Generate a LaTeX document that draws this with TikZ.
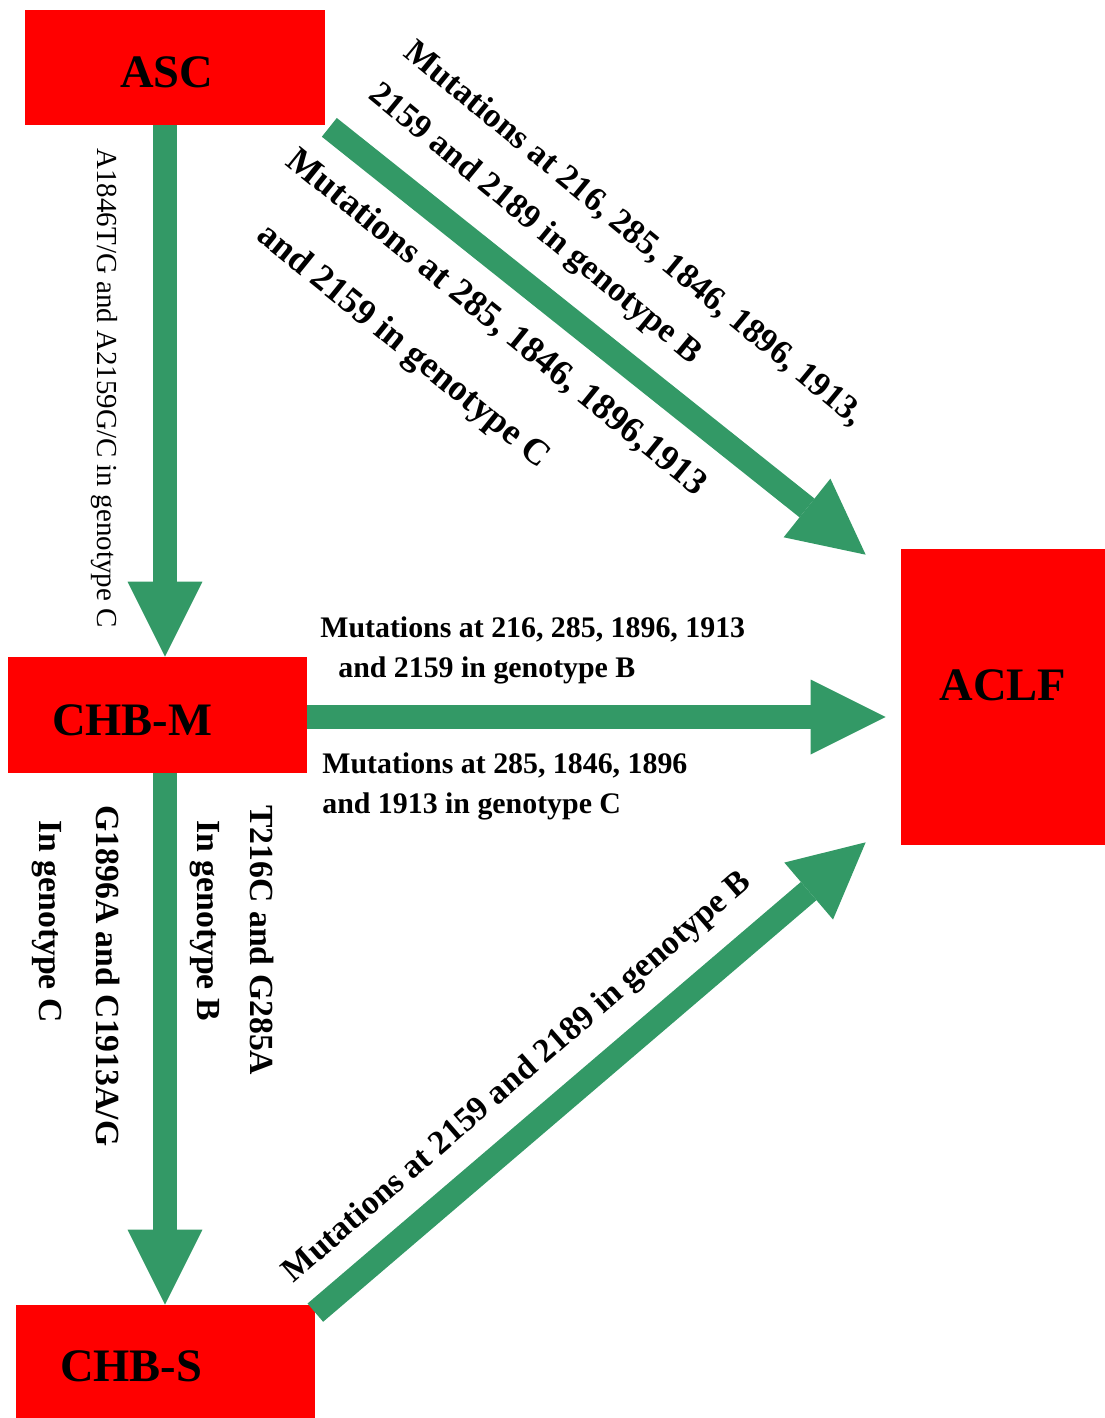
\documentclass[tikz,border=0pt]{standalone}
\usepackage{fontspec}
\setmainfont{Liberation Serif}
\usetikzlibrary{arrows.meta, calc}
\definecolor{stagered}{HTML}{FF0000}
\definecolor{flowgreen}{HTML}{339966}

\tikzset{
  stage/.style={fill=stagered, inner ysep=0pt, align=left,
    text height=0.8cm, text depth=0pt,
    font=\bfseries\fontsize{26.5}{30}\selectfont},
  flow/.style={draw=flowgreen, line width=0.48cm,
    -{Triangle[length=1.5cm, width=1.5cm, line width=0pt]}},
  note/.style={inner sep=0pt, align=left,
    font=\bfseries\fontsize{17}{22.7}\selectfont}
}

\begin{document}
\begin{tikzpicture}[x=0.02cm, y=-0.02cm]
      \useasboundingbox (0,0) rectangle (1105,1418);

      % The four stages
      \node[stage, minimum height=2.3cm, text width=2.2cm, inner xsep=1.9cm] (asc) at (175,67.5) {ASC};
      \node[stage, minimum height=2.32cm, text width=4.22cm, inner xsep=0.88cm] (chbm) at (157.5,715) {CHB-M};
      \node[stage, minimum height=2.26cm, text width=4.22cm, inner xsep=0.88cm] (chbs) at (165.5,1361.5) {CHB-S};
      \node[stage, minimum height=5.92cm, text width=4.08cm, inner xsep=0pt, align=center, text height=0.62cm, text depth=0.48cm] (aclf) at (1003,697) {ACLF};

      % Arrows between the stages
      \coordinate (spine) at (165,0);
      \draw[flow] (asc.south -| spine) -- (chbm.north -| spine);
      \draw[flow] (chbm.south -| spine) -- (chbs.north -| spine);
      \draw[flow, shorten >=0.3cm] ($(chbm.east)+(0,2)$) -- ($(chbm.east -| aclf.west)+(0,2)$);
      \draw[flow] ($(asc.south east)+(4,2)$) -- ($(aclf.north west)+(-35,6)$);
      \draw[flow] ($(chbs.north east)+(0,8)$) -- ($(aclf.south west)+(-35,-3)$);

      % Mutations along the arrows
      \node[note, font=\fontsize{16.5}{20}\selectfont, rotate=-90] (mutA) at (104,388) {A1846T/G and A2159G/C in genotype C};
      \node[note, anchor=west] (mutB) at (320,650) {Mutations at 216, 285, 1896, 1913\\\hspace*{0.36cm}and 2159 in genotype B};
      \node[note, anchor=west] (mutC) at (322,786) {Mutations at 285, 1846, 1896\\and 1913 in genotype C};
      \node[note, font=\bfseries\fontsize{19.2}{30.6}\selectfont, rotate=-90, anchor=west] (mutD) at (232,805) {T216C and G285A\\\hspace*{0.3cm}In genotype B};
      \node[note, font=\bfseries\fontsize{19.2}{32.9}\selectfont, rotate=-90, anchor=west] (mutE) at (76,805) {G1896A and C1913A/G\\\hspace*{0.3cm}In genotype C};
      \node[note, font=\bfseries\fontsize{19.6}{31.2}\selectfont, rotate=-39.5, anchor=west] (mutF) at (390,70) {Mutations at 216, 285, 1846, 1896, 1913,\\2159 and 2189 in genotype B};
      \node[note, font=\bfseries\fontsize{20.8}{43.7}\selectfont, rotate=-39, anchor=west] (mutG) at (266,187) {Mutations at 285, 1846, 1896,1913\\\hspace*{0.48cm}and 2159 in genotype C};
      \node[note, font=\bfseries\fontsize{19.3}{23}\selectfont, rotate=41] (mutH) at (518,1078) {Mutations at 2159 and 2189 in genotype B};
\end{tikzpicture}
\end{document}
